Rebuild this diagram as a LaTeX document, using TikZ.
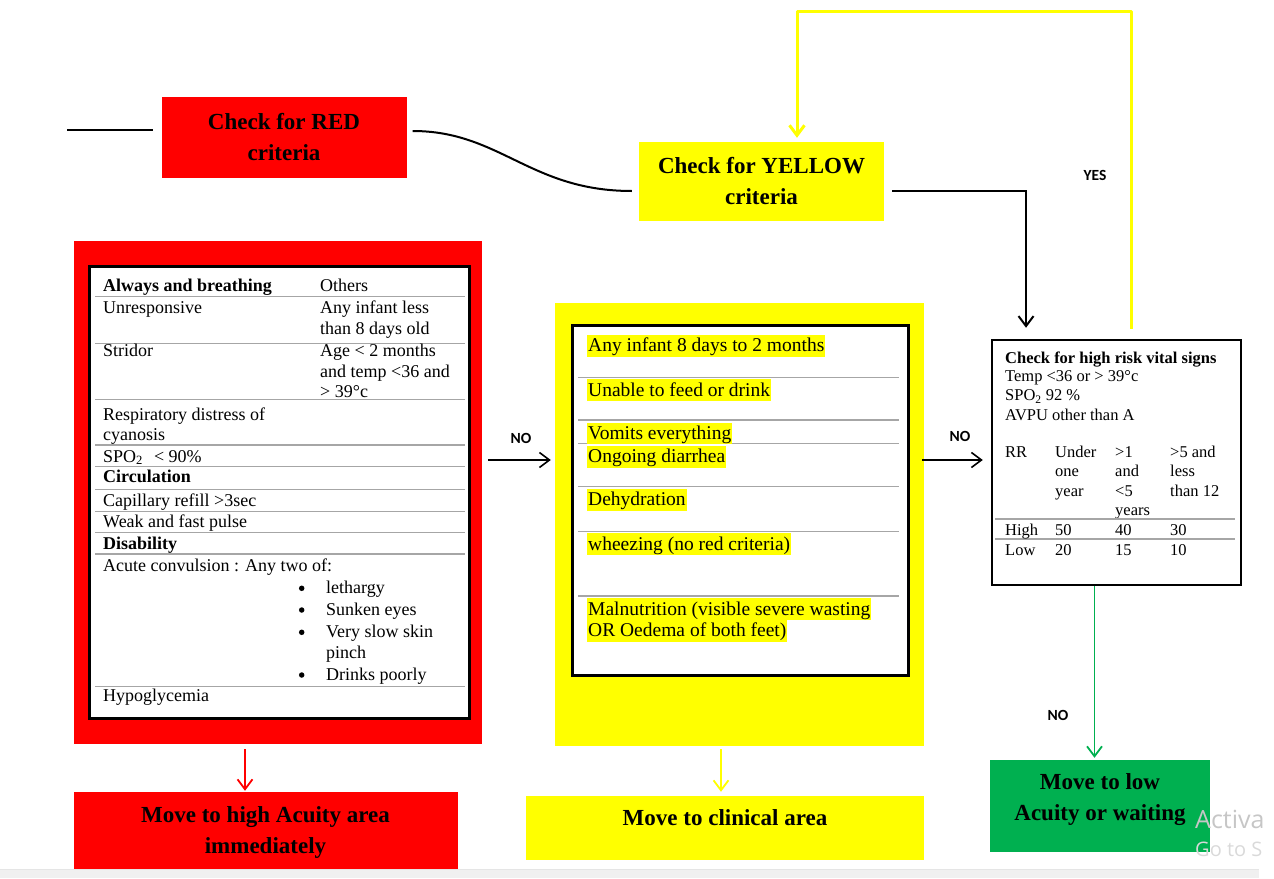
\documentclass[tikz,border=0pt]{standalone}
\usepackage{fontspec}
\setmainfont{Liberation Serif}
\newfontfamily\lblfont{Carlito}
\newfontfamily\wmfont{Open Sans}
\usetikzlibrary{arrows.meta,calc}
\definecolor{rd}{HTML}{FF0000}
\definecolor{yl}{HTML}{FFFF00}
\definecolor{gn}{HTML}{00B050}
\definecolor{barc}{HTML}{F0F0F0}
\begin{document}
\begin{tikzpicture}[x=1pt,y=-1pt,
  ttl/.style={font=\fontsize{23}{31}\selectfont\bfseries, align=center, inner sep=0pt},
  tt/.style={anchor=base west, inner sep=0pt, font=\fontsize{18}{21.7}\selectfont},
  hl/.style={anchor=base west, inner xsep=1pt, inner ysep=0pt, fill=yl, text height=16.7pt, text depth=4.8pt, font=\fontsize{19.5}{22}\selectfont},
  vt/.style={anchor=base west, inner sep=0pt, font=\fontsize{16.5}{19}\selectfont},
  rl/.style={draw=gray!70, line width=1.3pt},
  bul/.style={circle, fill=black, inner sep=0pt, minimum size=5.5pt},
  lbl/.style={font=\lblfont\bfseries\fontsize{15.5}{15.5}\selectfont, inner sep=0pt},
  arr/.style={-{Straight Barb[length=10pt,width=15pt]}, line width=1.8pt},
]
\useasboundingbox (0,0) rectangle (1274,878);

% ---------- top boxes ----------
\node[fill=rd, minimum width=245pt, minimum height=81pt, ttl] (red) at (284,137) {Check for RED\\criteria};
\node[fill=yl, minimum width=245pt, minimum height=79pt, ttl] (ytop) at (761.5,181.5) {Check for YELLOW\\criteria};

\coordinate (lin) at (67,130);
\draw[line width=2pt, shorten >=8pt] (lin) -- (lin -| red.west);
\draw[line width=2pt] ($(red.east)+(6,-6)$) .. controls (500,131) and (530,191) .. ($(ytop.west)+(-7,9.5)$);

% ---------- big red box with table ----------
\node[fill=rd, minimum width=408pt, minimum height=503pt, inner sep=0pt] (redbig) at (278,492.5) {};
\node[draw=black, line width=3pt, fill=white, minimum width=380pt, minimum height=452pt, inner sep=0pt] (redtab) at (279,492) {};

\foreach \yy in {296.7,343.5,399.5,445,466.7,489.3,511.7,532.7,554,686.7}
  \draw[rl] (95,\yy) -- (465,\yy);

\node[tt] (t1) at (103,291.7) {\textbf{Always and breathing}};
\node[tt] (t2) at (320,291.7) {Others};
\node[tt] (t3) at (103,313.3) {Unresponsive};
\node[tt] (t4) at (320,313.3) {Any infant less};
\node[tt] (t5) at (320,334.7) {than 8 days old};
\node[tt] (t6) at (103,356.7) {Stridor};
\node[tt] (t7) at (320,356.7) {Age < 2 months};
\node[tt] (t8) at (320,377.3) {and temp <36 and};
\node[tt] (t9) at (320,397.5) {> 39°c};
\node[tt] (t10) at (103,420) {Respiratory distress of};
\node[tt] (t11) at (103,440.7) {cyanosis};
\node[tt] (t12) at (103,462.3) {SPO\textsubscript{2}\hspace{11pt}< 90\%};
\node[tt] (t13) at (103,482.3) {\textbf{Circulation}};
\node[tt] (t14) at (103,506.5) {Capillary refill >3sec};
\node[tt] (t15) at (103,527.7) {Weak and fast pulse};
\node[tt] (t16) at (103,549) {\textbf{Disability}};
\node[tt] (t17) at (103,571.5) {Acute convulsion : Any two of:};
\node[bul] (b1) at (301.7,588.3) {};
\node[tt] (t18) at (326,593.3) {lethargy};
\node[bul] (b2) at (301.7,610) {};
\node[tt] (t19) at (326,615) {Sunken eyes};
\node[bul] (b3) at (301.7,632.3) {};
\node[tt] (t20) at (326,637.3) {Very slow skin};
\node[tt] (t21) at (326,658.3) {pinch};
\node[bul] (b4) at (301.7,675) {};
\node[tt] (t22) at (326,680) {Drinks poorly};
\node[tt] (t23) at (103,701.7) {Hypoglycemia};

% ---------- big yellow box with list ----------
\node[fill=yl, minimum width=369pt, minimum height=443pt, inner sep=0pt] (ylbig) at (739.5,524.5) {};
\node[draw=black, line width=3pt, fill=white, minimum width=336pt, minimum height=350pt, inner sep=0pt] (yltab) at (740,500) {};

\foreach \yy in {377.3,420,443.3,486.7,531.3,596}
  \draw[rl] (578,\yy) -- (899,\yy);

\node[hl] (y1) at (587,351.7) {Any infant 8 days to 2 months};
\node[hl] (y2) at (587,396) {Unable to feed or drink};
\node[hl] (y3) at (587,439.3) {Vomits everything};
\node[hl] (y4) at (587,462.7) {Ongoing diarrhea};
\node[hl] (y5) at (587,505.7) {Dehydration};
\node[hl] (y6) at (587,550) {wheezing (no red criteria)};
\node[hl] (y7) at (587,615) {Malnutrition (visible severe wasting};
\node[hl] (y8) at (587,636.7) {OR Oedema of both feet)};

% ---------- vital signs box ----------
\node[draw=black, line width=2.5pt, fill=white, minimum width=249pt, minimum height=245pt, inner sep=0pt] (vital) at (1116.5,462.5) {};
\node[vt] (v1) at (1005,363.3) {\textbf{Check for high risk vital signs}};
\node[vt] (v2) at (1005,381.7) {Temp <36 or > 39°c};
\node[vt] (v3) at (1005,400.7) {SPO\textsubscript{2} 92 \%};
\node[vt] (v4) at (1005,420) {AVPU other than A};
\node[vt] (v5) at (1005,457.7) {RR};
\node[vt] (v6) at (1055,457.7) {Under};
\node[vt] (v7) at (1055,476.7) {one};
\node[vt] (v8) at (1055,496) {year};
\node[vt] (v9) at (1115,457.7) {>1};
\node[vt] (v10) at (1115,476.7) {and};
\node[vt] (v11) at (1115,496) {<5};
\node[vt] (v12) at (1115,515) {years};
\node[vt] (v13) at (1170,457.7) {>5 and};
\node[vt] (v14) at (1170,476.7) {less};
\node[vt] (v15) at (1170,496) {than 12};
\draw[rl] (995,519) -- (1235,519);
\draw[rl] (995,539) -- (1235,539);
\node[vt] (v16) at (1005,535) {High};
\node[vt] (v17) at (1055,535) {50};
\node[vt] (v18) at (1115,535) {40};
\node[vt] (v19) at (1170,535) {30};
\node[vt] (v20) at (1005,555) {Low};
\node[vt] (v21) at (1055,555) {20};
\node[vt] (v22) at (1115,555) {15};
\node[vt] (v23) at (1170,555) {10};

% ---------- bottom boxes ----------
\node[fill=rd, minimum width=384pt, minimum height=80pt, ttl] (redbot) at (265.5,832) {Move to high Acuity area\\immediately};
\node[fill=yl, minimum width=398pt, minimum height=64pt, inner sep=0pt] (ybot) at (725,828) {};
\node[ttl] (ybott) at (725,818) {Move to clinical area};
\node[fill=gn, minimum width=220pt, minimum height=92pt, inner sep=0pt] (gnbox) at (1100,806) {};
\node[ttl] (gnt) at (1100,800) {Move to low\\Acuity or waiting};

% ---------- connectors ----------
\coordinate (loopR) at (1131,11);
\coordinate (loopL) at (797,11);
\draw[arr, draw=yl, line width=3pt, line join=round, shorten <=10pt, shorten >=4pt]
  (vital.north -| loopR) -- (loopR) -- (loopL) -- (loopL |- ytop.north);
\draw[arr, line width=2pt, shorten >=11pt] ($(ytop.east)+(8,9.5)$) -| ($(vital.north)+(-90.5,0)$);
\draw[arr, line width=1.6pt, shorten >=4pt] ($(redbig.east)+(6,-32.5)$) -- ($(ylbig.west)+(0,-64.5)$);
\draw[arr, line width=1.6pt, shorten >=8pt] ($(ylbig.east)+(-2,-64.5)$) -- ($(vital.west)+(0,-2.5)$);
\draw[arr, draw=rd, shorten >=1pt] ($(redbig.south)+(-33,5)$) -- ($(redbot.north)+(-20.5,0)$);
\draw[arr, draw=yl, shorten >=4pt] ($(ylbig.south)+(-18.5,3)$) -- ($(ybot.north)+(-4,0)$);
\draw[arr, draw=gn, shorten >=2pt] ($(vital.south)+(-22,0)$) -- ($(gnbox.north)+(-5.5,0)$);

% ---------- labels ----------
\node[lbl] (yes) at (1095,175) {YES};
\node[lbl] (no1) at (521,438) {NO};
\node[lbl] (no2) at (960,436) {NO};
\node[lbl] (no3) at (1058,715) {NO};

% ---------- watermark and bottom bar ----------
\node[anchor=base west, inner sep=0pt, font=\wmfont\fontsize{25}{25}\selectfont, text=gray!45] (wm1) at (1195,828) {Activa};
\node[anchor=base west, inner sep=0pt, font=\wmfont\fontsize{20}{20}\selectfont, text=gray!30] (wm2) at (1195,856.7) {Go to S};
\fill[barc] (0,869) rectangle (1259,878);
\draw[gray!20, line width=0.8pt] (0,869) -- (1259,869);
\end{tikzpicture}
\end{document}
